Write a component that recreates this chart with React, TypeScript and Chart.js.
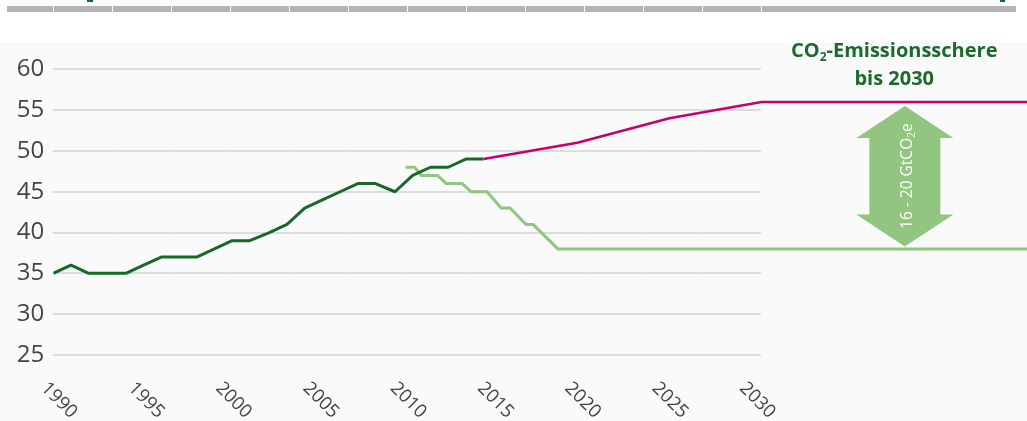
import React, { useEffect, useRef } from 'react';
import { Chart, registerables } from 'chart.js';

Chart.register(...registerables);

// ---- data ----
const xTickYears = [1990, 1995, 2000, 2005, 2010, 2015, 2020, 2025, 2030];
const yTickValues = [25, 30, 35, 40, 45, 50, 55, 60];

// historical emissions (GtCO2e)
const historyYears = [
  1990.0, 1991.0, 1992.0, 1993.0, 1994.1, 1995.1, 1996.1, 1997.1, 1998.1, 1999.1,
  2000.1, 2001.1, 2002.2, 2003.2, 2004.2, 2005.2, 2006.2, 2007.2, 2008.2, 2009.3,
  2010.3, 2011.3, 2012.3, 2013.3, 2014.3,
];
const historyValues = [
  35, 36, 35, 35, 35, 36, 37, 37, 37, 38,
  39, 39, 40, 41, 43, 44, 45, 46, 46, 45,
  47, 48, 48, 49, 49,
];

// business-as-usual projection
const bauYears = [2014.3, 2019.6, 2024.8, 2030.0, 2045.0];
const bauValues = [49, 51, 54, 56, 56];

// pathway
const pathYears = [2009.9, 2010.4, 2010.8, 2011.7, 2012.2, 2013.1, 2013.6, 2014.5, 2015.3, 2015.8, 2016.7, 2017.1, 2018.5, 2045.0];
const pathValues = [48, 48, 47, 47, 46, 46, 45, 45, 43, 43, 41, 41, 38, 38];

const titleLine1Parts = ['CO', '2', '-Emissionsschere'];
const titleLine2 = 'bis 2030';
const arrowLabelParts = ['16 - 20 GtCO', '2', 'e'];
const arrowFromValue = 56;
const arrowToValue = 38;

const DARK_GREEN = '#17692a';
const TITLE_GREEN = '#1b6a2c';
const PINK = '#c8006f';
const LIGHT_GREEN = '#92c57f';
const FONT = '"Open Sans", "Noto Sans", sans-serif';

const toXY = (xs: number[], ys: number[]) => xs.map((x, i) => ({ x, y: ys[i] }));

const decorPlugin = {
  id: 'decor',
  beforeDraw(chart: any) {
    const { ctx, width, height } = chart;
    const xs = chart.scales.x;
    ctx.save();
    ctx.fillStyle = '#ffffff';
    ctx.fillRect(0, 0, width, height);
    ctx.fillStyle = '#fafafa';
    ctx.fillRect(0, 42, width, height - 42);
    // top strip
    ctx.fillStyle = '#b4b4b4';
    ctx.fillRect(7, 6, 1009, 6);
    ctx.fillStyle = '#ffffff';
    for (let k = 0; k <= 12; k++) {
      const px = Math.round(xs.getPixelForValue(1990 + (k * 40) / 12) - 0.6);
      ctx.fillRect(px, 6, 1, 6);
    }
    // glyph remnants at the very top
    ctx.fillStyle = TITLE_GREEN;
    ctx.fillRect(87, 0, 6, 2);
    ctx.fillRect(1000, 0, 5, 2);
    ctx.restore();
  },
  beforeDatasetsDraw(chart: any) {
    const { ctx } = chart;
    const xs = chart.scales.x;
    const ys = chart.scales.y;
    const x0 = xs.getPixelForValue(1990) - 0.6;
    const x1 = xs.getPixelForValue(2030) - 0.6;
    ctx.save();
    for (const v of yTickValues) {
      const py = Math.round(ys.getPixelForValue(v));
      ctx.fillStyle = '#dcdcdc';
      ctx.fillRect(x0, py - 1, x1 - x0, 2);
      ctx.fillStyle = '#e8e8e8';
      for (let k = 1; k < 12; k++) {
        const px = Math.round(xs.getPixelForValue(1990 + (k * 40) / 12) - 0.6);
        ctx.fillRect(px, py - 1, 1, 2);
      }
    }
    ctx.restore();
  },
  afterDatasetsDraw(chart: any) {
    const { ctx } = chart;
    const xs = chart.scales.x;
    const ys = chart.scales.y;
    ctx.save();

    // x tick labels, rotated 45deg clockwise
    ctx.fillStyle = '#444444';
    ctx.font = `18.5px ${FONT}`;
    ctx.textAlign = 'left';
    ctx.textBaseline = 'alphabetic';
    for (const yr of xTickYears) {
      const t = (yr - 1990) / 40;
      const px = xs.getPixelForValue(yr) - 13 - 9.8 * t;
      ctx.save();
      ctx.translate(px, 389);
      ctx.rotate(Math.PI / 4);
      ctx.fillText(String(yr), 0, 0);
      ctx.restore();
    }

    // double arrow
    const cx = xs.getPixelForValue(2038.1);
    const top = ys.getPixelForValue(arrowFromValue) + 4;
    const bottom = ys.getPixelForValue(arrowToValue) - 2.5;
    const headH = 32;
    const headHalf = 48.5;
    const shaftHalf = 35.5;
    ctx.fillStyle = LIGHT_GREEN;
    ctx.beginPath();
    ctx.moveTo(cx, top);
    ctx.lineTo(cx + headHalf, top + headH);
    ctx.lineTo(cx + shaftHalf, top + headH);
    ctx.lineTo(cx + shaftHalf, bottom - headH);
    ctx.lineTo(cx + headHalf, bottom - headH);
    ctx.lineTo(cx, bottom);
    ctx.lineTo(cx - headHalf, bottom - headH);
    ctx.lineTo(cx - shaftHalf, bottom - headH);
    ctx.lineTo(cx - shaftHalf, top + headH);
    ctx.lineTo(cx - headHalf, top + headH);
    ctx.closePath();
    ctx.fill();

    // arrow label (rotated -90)
    const mainFont = `15.5px ${FONT}`;
    const subFont = `10px ${FONT}`;
    ctx.font = mainFont;
    const w0 = ctx.measureText(arrowLabelParts[0]).width;
    const w2 = ctx.measureText(arrowLabelParts[2]).width;
    ctx.font = subFont;
    const w1 = ctx.measureText(arrowLabelParts[1]).width;
    const total = w0 + w1 + w2;
    const midY = (top + bottom) / 2;
    ctx.save();
    ctx.translate(cx + 7, midY);
    ctx.rotate(-Math.PI / 2);
    ctx.fillStyle = '#ffffff';
    ctx.textAlign = 'left';
    ctx.textBaseline = 'alphabetic';
    let tx = -total / 2;
    ctx.font = mainFont;
    ctx.fillText(arrowLabelParts[0], tx, 0);
    tx += w0;
    ctx.font = subFont;
    ctx.fillText(arrowLabelParts[1], tx, 3);
    tx += w1;
    ctx.font = mainFont;
    ctx.fillText(arrowLabelParts[2], tx, 0);
    ctx.restore();

    // title
    const tcx = xs.getPixelForValue(2037.5);
    const bigFont = `bold 20px ${FONT}`;
    const smallFont = `bold 12px ${FONT}`;
    ctx.fillStyle = TITLE_GREEN;
    ctx.textAlign = 'left';
    ctx.textBaseline = 'alphabetic';
    ctx.font = bigFont;
    const a = ctx.measureText(titleLine1Parts[0]).width;
    const c = ctx.measureText(titleLine1Parts[2]).width;
    ctx.font = smallFont;
    const b = ctx.measureText(titleLine1Parts[1]).width;
    let lx = tcx - (a + b + c) / 2;
    ctx.font = bigFont;
    ctx.fillText(titleLine1Parts[0], lx, 56.5);
    lx += a;
    ctx.font = smallFont;
    ctx.fillText(titleLine1Parts[1], lx, 60.5);
    lx += b;
    ctx.font = bigFont;
    ctx.fillText(titleLine1Parts[2], lx, 56.5);
    ctx.textAlign = 'center';
    ctx.fillText(titleLine2, tcx, 85);

    ctx.restore();
  },
};

export default function App() {
  const canvasRef = useRef<HTMLCanvasElement | null>(null);

  useEffect(() => {
    document.body.style.margin = '0';
    const canvas = canvasRef.current;
    if (!canvas) return;
    const chart = new Chart(canvas, {
      type: 'line',
      data: {
        datasets: [
          {
            data: toXY(historyYears, historyValues),
            borderColor: DARK_GREEN,
            borderWidth: 3,
          },
          {
            data: toXY(bauYears, bauValues),
            borderColor: PINK,
            borderWidth: 2.6,
          },
          {
            data: toXY(pathYears, pathValues),
            borderColor: LIGHT_GREEN,
            borderWidth: 3,
          },
        ],
      },
      options: {
        animation: false,
        responsive: false,
        devicePixelRatio: 1,
        layout: { padding: { top: 69.3, bottom: 66, left: 0, right: 0 } },
        elements: {
          point: { radius: 0, hoverRadius: 0 },
          line: { tension: 0, borderJoinStyle: 'round', borderCapStyle: 'butt' },
        },
        plugins: {
          legend: { display: false },
          tooltip: { enabled: false },
          title: { display: false },
        },
        events: [],
        scales: {
          x: { type: 'linear', min: 1990, max: 2045, display: false },
          y: {
            type: 'linear',
            min: 25,
            max: 60,
            afterBuildTicks: (s: any) => {
              s.ticks = yTickValues.map((v) => ({ value: v }));
            },
            afterFit: (s: any) => {
              s.width = 53.3;
            },
            border: { display: false },
            grid: { display: false, drawTicks: false },
            ticks: {
              padding: 9,
              color: '#444444',
              font: { family: FONT, size: 24 },
            },
          },
        },
      },
      plugins: [decorPlugin],
    } as any);
    return () => chart.destroy();
  }, []);

  return (
    <div style={{ width: 1027, height: 421 }}>
      <canvas ref={canvasRef} width={1027} height={421} style={{ display: 'block' }} />
    </div>
  );
}
